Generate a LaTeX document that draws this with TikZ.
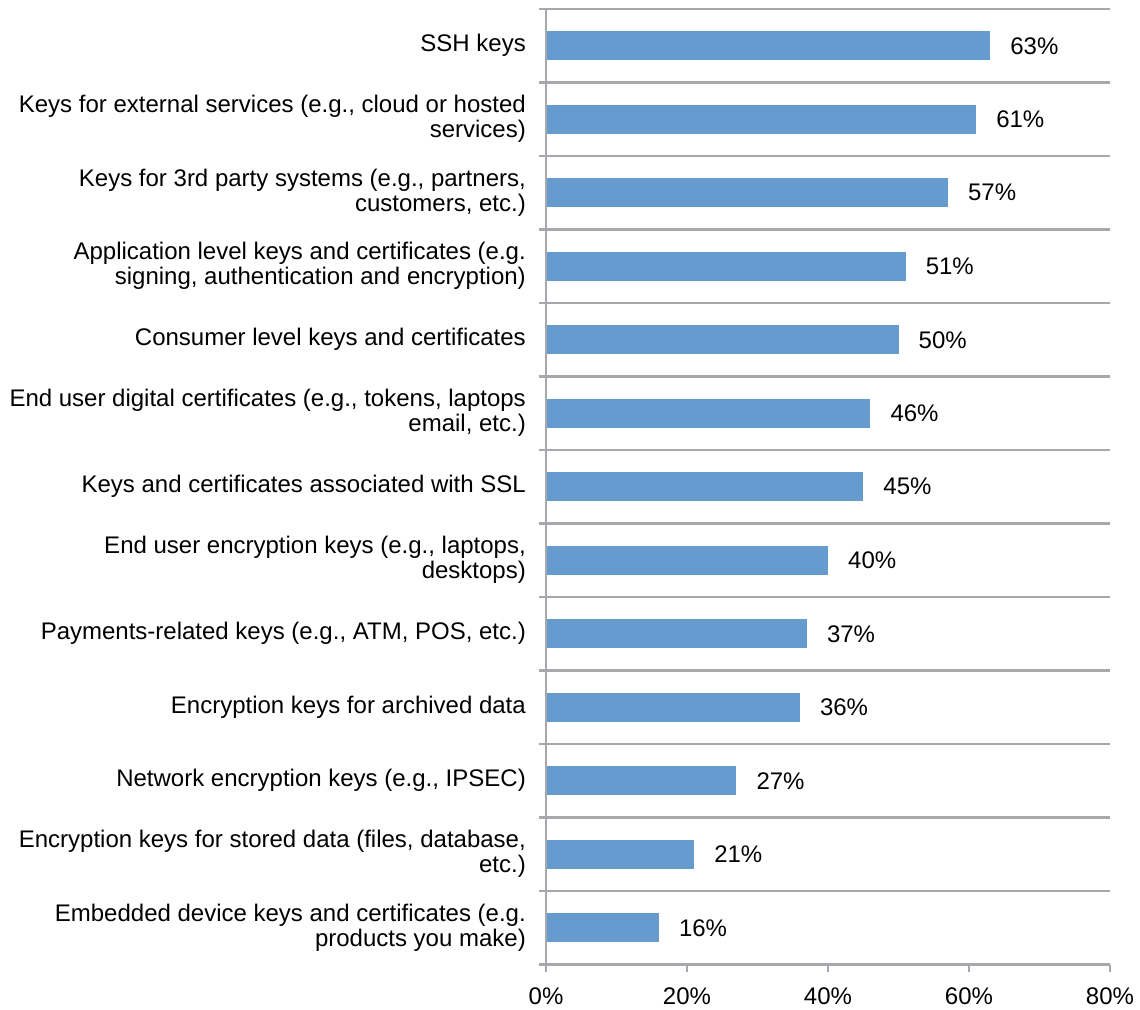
\documentclass[tikz,border=0pt]{standalone}
\usepackage{fontspec}
\setmainfont{Liberation Sans}
\definecolor{barblue}{HTML}{659BCF}
\definecolor{gridgray}{HTML}{A6A8AB}
\begin{document}
\begin{tikzpicture}[x=1pt,y=-1pt,
  gridline/.style={draw=gridgray,line width=2.4pt},
  barbox/.style={fill=barblue},
  catlabel/.style={anchor=east,align=right,font=\fontsize{24}{25}\selectfont,inner sep=0pt},
  vallabel/.style={anchor=west,font=\fontsize{24}{25}\selectfont,inner sep=0pt},
  ticklabel/.style={anchor=center,font=\fontsize{24}{25}\selectfont,inner sep=0pt}]
\useasboundingbox (0,0) rectangle (1140,1009);
% horizontal grid lines with left tick marks
\foreach \i in {0,...,13}
  \draw[gridline] (539,{9+73.5*\i}) -- (1110,{9+73.5*\i});
% category axis
\draw[gridline] (546,9) -- (546,972);
% value ticks
\foreach \k in {1,...,4}
  \draw[gridline] ({546+141*\k},965) -- ({546+141*\k},972);
% tick labels
\foreach \k/\t in {0/0\%,1/20\%,2/40\%,3/60\%,4/80\%}
  \node[ticklabel] (t\k) at ({546+141*\k},996) {\t};
% bars and labels
\foreach \i/\v/\lab in {
  1/63/{SSH keys},
  2/61/{Keys for external services (e.g., cloud or hosted\\services)},
  3/57/{Keys for 3rd party systems (e.g., partners,\\customers, etc.)},
  4/51/{Application level keys and certificates (e.g.\\signing, authentication and encryption)},
  5/50/{Consumer level keys and certificates},
  6/46/{End user digital certificates (e.g., tokens, laptops\\email, etc.)},
  7/45/{Keys and certificates associated with SSL},
  8/40/{End user encryption keys (e.g., laptops,\\desktops)},
  9/37/{Payments-related keys (e.g., ATM, POS, etc.)},
  10/36/{Encryption keys for archived data},
  11/27/{Network encryption keys (e.g., IPSEC)},
  12/21/{Encryption keys for stored data (files, database,\\etc.)},
  13/16/{Embedded device keys and certificates (e.g.\\products you make)}}
{
  \pgfmathsetmacro{\yc}{9+73.5*(\i-0.5)}
  \pgfmathsetmacro{\xe}{546+7.05*\v}
  \fill[barbox] (547,\yc-14.5) rectangle (\xe,\yc+14.5);
  \node[catlabel] (c\i) at (526,\yc) {\lab};
  \node[vallabel] (v\i) at (\xe+20,\yc) {\v\%};
}
\end{tikzpicture}
\end{document}
